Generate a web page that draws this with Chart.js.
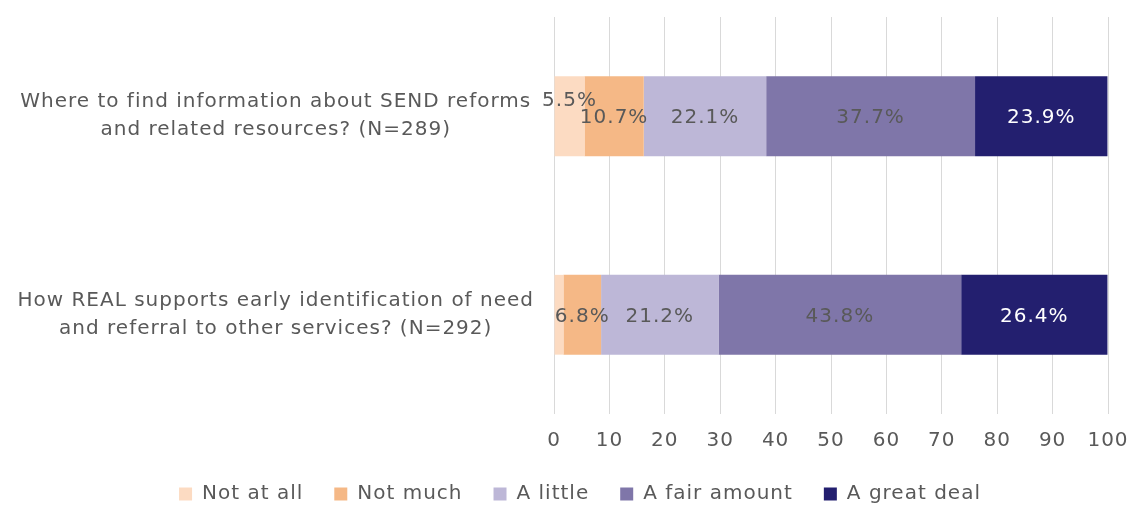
<!DOCTYPE html>
<html>
<head>
<meta charset="utf-8">
<script src="https://cdn.jsdelivr.net/npm/chart.js@4.4.0/dist/chart.umd.min.js"></script>
<style>
  html, body { margin: 0; padding: 0; background: #ffffff; }
  #wrap { width: 1131px; height: 507px; }
</style>
</head>
<body>
<div id="wrap"><canvas id="surveyChart" width="1131" height="507"></canvas></div>
<script>
// Categorías y respuestas
const questions = [
  ["Where to find information about SEND reforms", "and related resources? (N=289)"],
  ["How REAL supports early identification of need", "and referral to other services? (N=292)"],
];
const answerLabels = ["Not at all", "Not much", "A little", "A fair amount", "A great deal"];
const notAtAll = [5.5, 1.7];
const notMuch = [10.7, 6.8];
const aLittle = [22.1, 21.2];
const aFairAmount = [37.7, 43.8];
const aGreatDeal = [23.9, 26.4];
const xTicks = [0, 10, 20, 30, 40, 50, 60, 70, 80, 90, 100];

const colors = ["#FCDBC2", "#F5B886", "#BDB7D7", "#7F76A9", "#231F6F"];
const textColors = ["#595959", "#595959", "#595959", "#595959", "#FFFFFF"];
const FONT = "'DejaVu Sans', sans-serif";

const seriesValues = [notAtAll, notMuch, aLittle, aFairAmount, aGreatDeal];

// Texto más ancho, parecido a Century Gothic
const spacing = {
  id: "spacing",
  beforeUpdate(chart) { chart.ctx.letterSpacing = "1px"; },
  beforeDraw(chart) { chart.ctx.letterSpacing = "1px"; },
};

// Etiquetas de porcentaje dentro de cada segmento
const barLabels = {
  id: "barLabels",
  afterDatasetsDraw(chart, args, opts) {
    const ctx = chart.ctx;
    ctx.save();
    ctx.font = "20px " + FONT;
    ctx.textAlign = "center";
    ctx.textBaseline = "middle";
    chart.data.datasets.forEach((ds, i) => {
      const meta = chart.getDatasetMeta(i);
      meta.data.forEach((bar, j) => {
        const v = ds.data[j];
        if (v < 3) return; // segmento demasiado pequeño
        const props = bar.getProps(["x", "y", "base"], true);
        const cx = (props.x + props.base) / 2;
        const dy = (opts.offsets[i + "-" + j] || 0);
        ctx.fillStyle = textColors[i];
        ctx.fillText(v.toFixed(1) + "%", cx, props.y + 2 + dy);
      });
    });
    ctx.restore();
  },
};

// Ajuste de la leyenda
const legendShift = {
  id: "legendShift",
  afterLayout(chart, args, opts) {
    const lg = chart.legend;
    lg.top += opts.dy; lg.bottom += opts.dy;
    lg.left += opts.dx; lg.right += opts.dx;
  },
};

const ctx = document.getElementById("surveyChart").getContext("2d");
new Chart(ctx, {
  type: "bar",
  data: {
    labels: questions,
    datasets: answerLabels.map((name, i) => ({
      label: name,
      data: seriesValues[i],
      backgroundColor: colors[i],
      borderWidth: 0,
      barPercentage: 0.67,
      categoryPercentage: 0.6,
    })),
  },
  options: {
    indexAxis: "y",
    responsive: false,
    animation: false,
    layout: { padding: { top: 17, right: 23, left: 0, bottom: 0 } },
    scales: {
      x: {
        stacked: true,
        min: 0,
        max: 100,
        afterBuildTicks(scale) {
          scale.ticks = xTicks.map((v) => ({ value: v }));
        },
        afterFit(scale) {
          scale.height = 32;
          scale.paddingLeft = 0;
          scale.paddingRight = 0;
        },
        grid: { color: "#D9D9D9", lineWidth: 1, drawTicks: false },
        border: { display: false },
        ticks: { color: "#595959", font: { family: FONT, size: 20 }, padding: 15 },
      },
      y: {
        stacked: true,
        afterFit(scale) {
          scale.width = 554;
          scale.paddingTop = 0;
          scale.paddingBottom = 0;
        },
        grid: { display: false },
        border: { display: false },
        ticks: {
          color: "#595959",
          font: { family: FONT, size: 20, lineHeight: 1.4 },
          crossAlign: "center",
          padding: 12,
        },
      },
    },
    plugins: {
      legend: {
        position: "bottom",
        labels: {
          color: "#595959",
          font: { family: FONT, size: 20 },
          boxWidth: 13,
          boxHeight: 13,
          padding: 31,
        },
      },
      tooltip: { enabled: false },
      barLabels: { offsets: { "0-0": -17 } },
      legendShift: { dx: 26, dy: 7 },
    },
  },
  plugins: [spacing, barLabels, legendShift],
});
</script>
</body>
</html>
